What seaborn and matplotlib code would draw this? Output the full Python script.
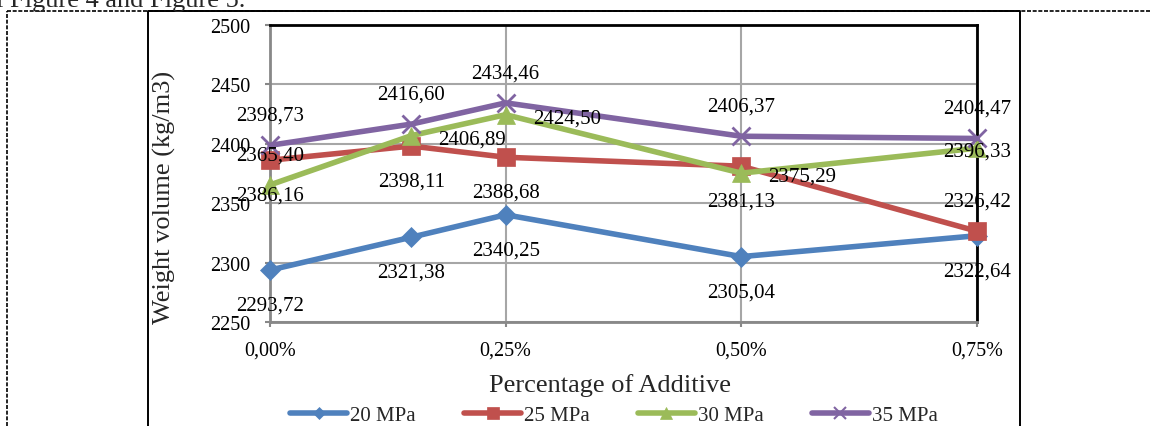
import matplotlib
matplotlib.use('Agg')
import matplotlib.pyplot as plt
import seaborn as sns
import pandas as pd
from matplotlib.lines import Line2D

# ---------------- data ----------------
additive = [0.00, 0.15, 0.25, 0.50, 0.75]
series_names = ['20 MPa', '25 MPa', '30 MPa', '35 MPa']
mpa20 = [2293.72, 2321.38, 2340.25, 2305.04, 2322.64]
mpa25 = [2386.16, 2398.11, 2388.68, 2381.13, 2326.42]
mpa30 = [2365.40, 2406.89, 2424.50, 2375.29, 2396.33]
mpa35 = [2398.73, 2416.60, 2434.46, 2406.37, 2404.47]
x_ticks = [0.00, 0.25, 0.50, 0.75]
x_tick_labels = ['0,00%', '0,25%', '0,50%', '0,75%']
y_ticks = [2250, 2300, 2350, 2400, 2450, 2500]

# label placement (kept apart from the data)
label_places = {
    '20 MPa': ['below', 'below', 'below', 'below', 'below'],
    '25 MPa': ['below', 'below', 'below', 'below', 'above'],
    '30 MPa': ['above', 'right', 'right', 'right', 'center'],
    '35 MPa': ['above', 'above', 'above', 'above', 'above'],
}
place_offsets = {'above': (0, 30), 'below': (0, -35), 'right': (61, -3), 'center': (0, -3)}

# ---------------- style ----------------
sns.set_style('white')
plt.rcParams['font.family'] = ['Liberation Serif', 'DejaVu Serif']

colors = {'20 MPa': '#4F81BD', '25 MPa': '#C0504D', '30 MPa': '#9BBB59', '35 MPa': '#8064A2'}
markers = {'20 MPa': 'D', '25 MPa': 's', '30 MPa': '^', '35 MPa': 'x'}
msizes = {'20 MPa': 10, '25 MPa': 13, '30 MPa': 13.5, '35 MPa': 13.5}
leg_msizes = {'20 MPa': 6.5, '25 MPa': 8.5, '30 MPa': 9, '35 MPa': 9}

W, H = 1150, 427
fig = plt.figure(figsize=(W / 100, H / 100), dpi=100)
fig.patch.set_facecolor('white')

ax_l, ax_r, ax_t, ax_b = 270, 977, 26, 323
ax = fig.add_axes([ax_l / W, 1 - ax_b / H, (ax_r - ax_l) / W, (ax_b - ax_t) / H])
ax.set_facecolor('white')

df = pd.DataFrame({
    'additive': additive * 4,
    'value': mpa20 + mpa25 + mpa30 + mpa35,
    'series': sum([[n] * len(additive) for n in series_names], []),
})

for name in series_names:
    sub = df[df['series'] == name]
    c = colors[name]
    sns.lineplot(data=sub, x='additive', y='value', ax=ax, color=c,
                 marker=markers[name], markersize=msizes[name],
                 markeredgecolor=c, markerfacecolor=c,
                 markeredgewidth=2.0 if markers[name] == 'x' else 0.5,
                 linewidth=4.0, clip_on=False, legend=False, zorder=3)

# data labels
for name in series_names:
    sub = df[df['series'] == name].reset_index(drop=True)
    for i, row in sub.iterrows():
        dx, dy = place_offsets[label_places[name][i]]
        ax.annotate(f"{row['value']:.2f}".replace('.', ','),
                    (row['additive'], row['value']),
                    xytext=(dx, dy), textcoords='offset pixels',
                    ha='center', va='center', fontsize=15, color='black',
                    zorder=5, annotation_clip=False)

ax.set_xlim(0, 0.75)
ax.set_ylim(2250, 2500)
ax.set_xticks(x_ticks)
ax.set_xticklabels(x_tick_labels)
ax.set_yticks(y_ticks)
ax.set_yticklabels([str(v) for v in y_ticks])
ax.set_xlabel('')
ax.set_ylabel('')
ax.tick_params(axis='both', labelsize=14.5, colors='#888888', labelcolor='black',
               length=3.6, width=1.5, direction='out')
ax.tick_params(axis='y', pad=10.5, left=True)
ax.tick_params(axis='x', pad=10, bottom=True)

ax.grid(True, color='#A6A6A6', linewidth=1.5, zorder=0)
ax.set_axisbelow(True)
for s in ['left', 'bottom']:
    ax.spines[s].set_color('#888888')
    ax.spines[s].set_linewidth(2.0)
for s in ['top', 'right']:
    ax.spines[s].set_color('black')
    ax.spines[s].set_linewidth(2.0)
for s in ax.spines.values():
    s.set_visible(True)
    s.set_zorder(2.5)

# axis titles
fig.text(610 / W, 1 - 392 / H, 'Percentage of Additive', ha='center', va='baseline', fontsize=19)
fig.text(164 / W, 1 - 197 / H, 'Weight volume (kg/m3)', ha='center', va='center',
         rotation=90, fontsize=19)

# legend
handles = [Line2D([0], [0], color=colors[n], lw=4.0, marker=markers[n],
                  markersize=leg_msizes[n], markeredgecolor=colors[n],
                  markerfacecolor=colors[n],
                  markeredgewidth=1.5 if markers[n] == 'x' else 0.5)
           for n in series_names]
fig.legend(handles, series_names, loc='center', bbox_to_anchor=(614 / W, 1 - 416.5 / H),
           ncol=4, frameon=False, fontsize=15, handlelength=2.74,
           handletextpad=0.15, columnspacing=2.3, borderpad=0, borderaxespad=0)

# page text (cut off at the top)
fig.text(-4 / W, 1 - 7 / H, 'l Figure 4 and Figure 5.', ha='left', va='baseline', fontsize=19)

# dashed page frame
fig.add_artist(Line2D([7 / W, 7 / W], [0, 1 - 12 / H], transform=fig.transFigure,
                      color='black', lw=1.2, linestyle=(0, (2.4, 1.0))))
fig.add_artist(Line2D([7 / W, 1], [1 - 12 / H, 1 - 12 / H], transform=fig.transFigure,
                      color='black', lw=1.2, linestyle=(0, (2.4, 1.0))))
# chart frame
fig.add_artist(Line2D([148 / W, 148 / W, 1020 / W, 1020 / W],
                      [0, 1 - 12 / H, 1 - 12 / H, 0], transform=fig.transFigure,
                      color='black', lw=1.4))

fig.savefig('out.png', dpi=100, facecolor='white')
